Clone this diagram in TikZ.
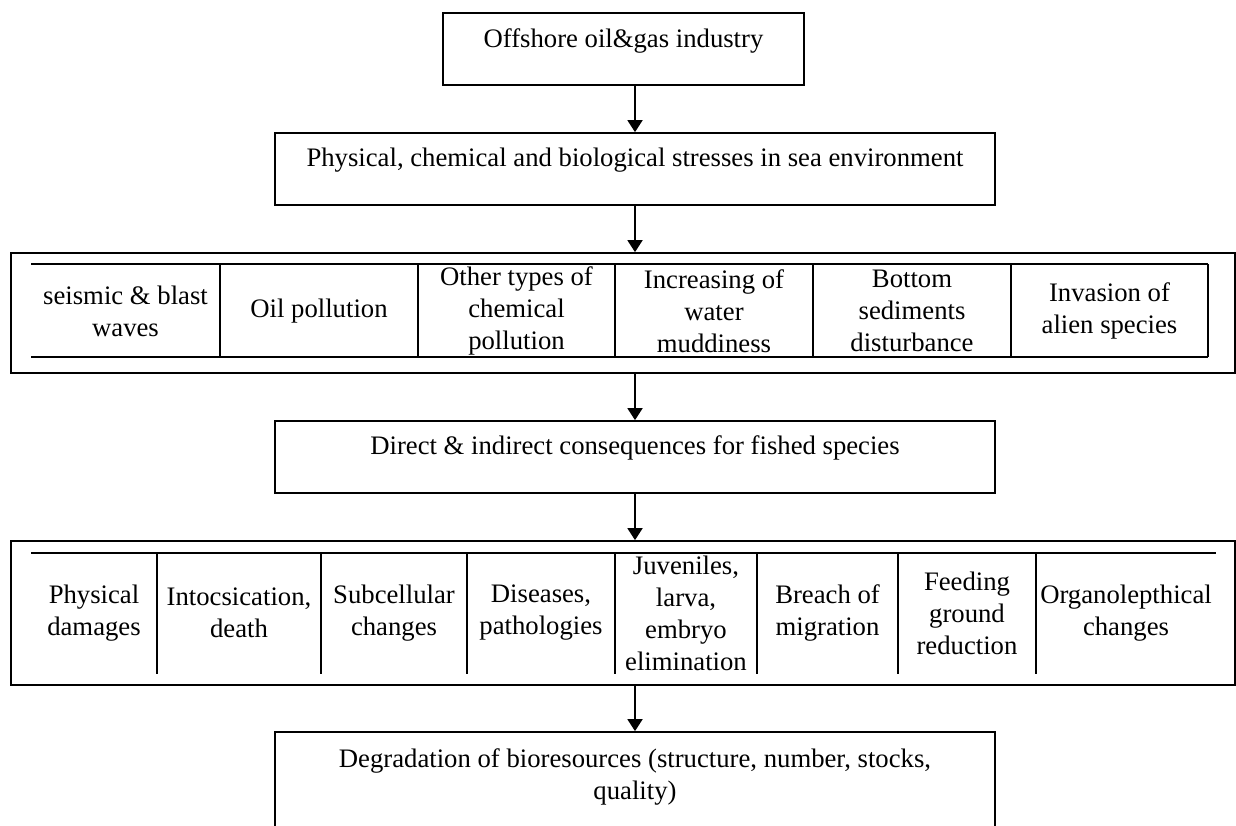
\documentclass[tikz,border=0pt]{standalone}
\usepackage{fontspec}
\setmainfont{Liberation Serif}
\usetikzlibrary{arrows.meta}
\begin{document}
\begin{tikzpicture}[x=1pt,y=-1pt,
  box/.style={draw, line width=1.7pt, minimum width=720pt, minimum height=72pt, inner sep=0pt},
  txt/.style={font=\fontsize{26.7}{32}\selectfont, align=center, inner sep=0pt},
  arr/.style={-{Triangle[length=12pt,width=15pt]}, line width=1.7pt},
  rule/.style={line width=1.7pt}]
\clip (0,0) rectangle (1236,826);
\fill[white] (0,0) rectangle (1236,826);

% level 1
\node[box, minimum width=361pt] (b1) at (623.5,49) {};
\node[txt] (t1) at (623.5,41) {Offshore oil\&gas industry};

% level 2
\node[box] (b2) at (635,169) {};
\node[txt] (t2) at (635,160) {Physical, chemical and biological stresses in sea environment};

% level 3 (stresses)
\node[box, minimum width=1224pt, minimum height=120pt] (b3) at (623,313) {};
\draw[rule] (31,264) -- (1208,264);
\draw[rule] (31,357) -- (1208,357);
\foreach \x in {220,418,615,813,1011,1208} \draw[rule] (\x,264) -- (\x,357);
\node[txt] (s1) at (125.5,311) {seismic \& blast\\waves};
\node[txt] (s2) at (319,311) {Oil pollution};
\node[txt] (s3) at (516.5,311) {Other types of\\chemical\\pollution};
\node[txt] (s4) at (714,311) {Increasing of\\water\\muddiness};
\node[txt] (s5) at (912,311) {Bottom\\sediments\\disturbance};
\node[txt] (s6) at (1109.5,311) {Invasion of\\alien species};

% level 4
\node[box] (b4) at (635,457) {};
\node[txt] (t4) at (635,448) {Direct \& indirect consequences for fished species};

% level 5 (consequences)
\node[box, minimum width=1224pt, minimum height=144pt] (b5) at (623,613) {};
\draw[rule] (31,553) -- (1216,553);
\foreach \x in {157,321,467,615,757,898,1036} \draw[rule] (\x,553) -- (\x,674);
\node[txt] (k1) at (94,613) {Physical\\damages};
\node[txt] (k2) at (239,613) {Intocsication,\\death};
\node[txt] (k3) at (394,613) {Subcellular\\changes};
\node[txt] (k4) at (541,613) {Diseases,\\pathologies};
\node[txt] (k5) at (686,613) {Juveniles,\\larva,\\embryo\\elimination};
\node[txt] (k6) at (827.5,613) {Breach of\\migration};
\node[txt] (k7) at (967,613) {Feeding\\ground\\reduction};
\node[txt] (k8) at (1126,613) {Organolepthical\\changes};

% level 6
\node[box, minimum height=116pt] (b6) at (635,790) {};
\node[txt] (t6) at (635,777) {Degradation of bioresources (structure, number, stocks,\\quality)};

% connectors
\draw[arr] (b1.south -| b2.north) -- (b2.north);
\draw[arr] (b2.south) -- (b2.south |- b3.north);
\draw[arr] (b3.south -| b4.north) -- (b4.north);
\draw[arr] (b4.south) -- (b4.south |- b5.north);
\draw[arr] (b5.south -| b6.north) -- (b6.north);
\end{tikzpicture}
\end{document}
